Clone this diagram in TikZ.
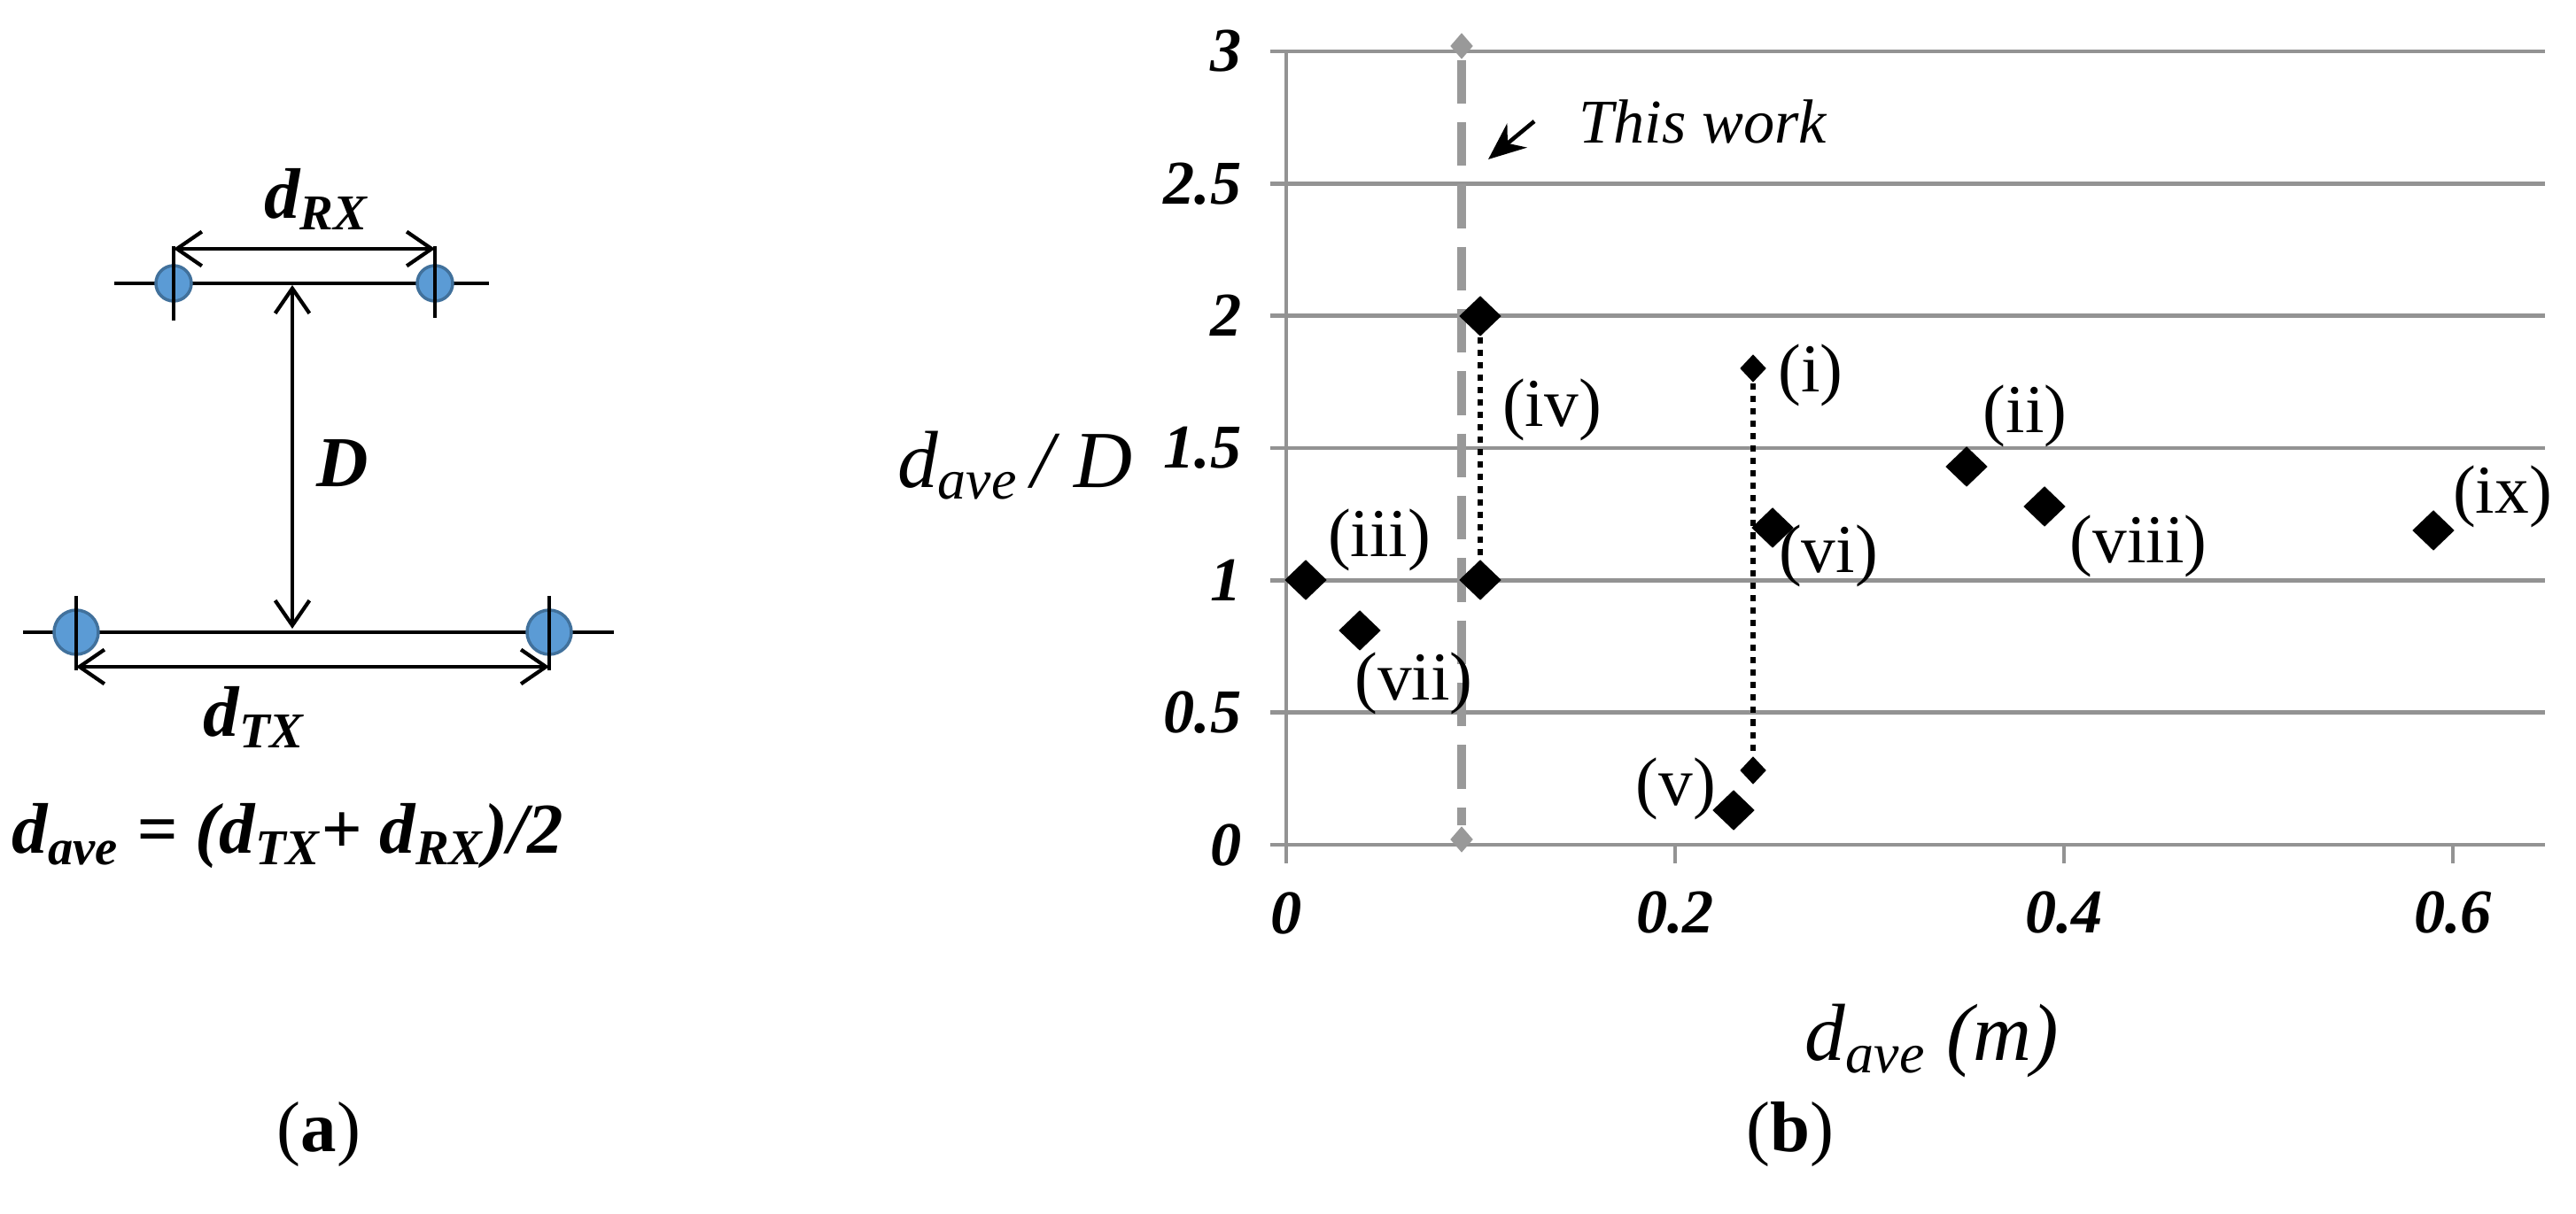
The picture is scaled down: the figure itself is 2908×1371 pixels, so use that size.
\documentclass[tikz,border=0pt]{standalone}
\usepackage{fontspec}
\setmainfont{Liberation Serif}
\usetikzlibrary{arrows.meta,shapes.geometric}
\definecolor{antf}{HTML}{5B9BD5}
\definecolor{antd}{HTML}{41719C}
\begin{document}
\begin{tikzpicture}[x=0.01cm,y=-0.01cm,
  dim/.style={line width=1.2pt,{Straight Barb[length=8pt,width=11pt]}-{Straight Barb[length=8pt,width=11pt]}},
  ln/.style={line width=1.2pt},
  ant/.style={circle,draw=antd,fill=antf,line width=1pt,inner sep=0pt},
  grid/.style={draw=gray!85,line width=1.3pt},
  dia/.style={diamond,fill=black,inner sep=0pt,minimum width=48*0.01cm,minimum height=46*0.01cm},
  sdia/.style={diamond,fill=black,inner sep=0pt,minimum width=30*0.01cm,minimum height=32*0.01cm},
  gdia/.style={diamond,fill=gray!80,inner sep=0pt,minimum width=26*0.01cm,minimum height=30*0.01cm},
  lab/.style={font=\fontsize{22}{24}\selectfont},
  tick/.style={font=\fontsize{20}{22}\selectfont\bfseries\itshape},
  big/.style={font=\fontsize{23}{25}\selectfont\bfseries\itshape}]
\useasboundingbox (0,0) rectangle (2908,1371);
% ---- panel (a)
\draw[ln] (129,320) -- (552,320);
\draw[ln] (26,714) -- (693,714);
\node[ant,minimum size=40*0.01cm] (r1) at (196,320) {};
\node[ant,minimum size=40*0.01cm] (r2) at (491,320) {};
\node[ant,minimum size=50*0.01cm] (t1) at (86,714) {};
\node[ant,minimum size=50*0.01cm] (t2) at (620,714) {};
\draw[ln] (196,278) -- (196,362);
\draw[ln] (491,278) -- (491,359);
\draw[ln] (86,673) -- (86,757);
\draw[ln] (620,673) -- (620,757);
\coordinate (ra) at (196,281); \coordinate (rb) at (491,281);
\coordinate (ta) at (86,753); \coordinate (tb) at (620,753);
\coordinate (da) at (330,322); \coordinate (db) at (330,710);
\draw[dim] (ra) -- (rb);
\draw[dim] (ta) -- (tb);
\draw[dim] (da) -- (db);
\node[big] (lrx) at (357,225) {d\textsubscript{RX}};
\node[big] (ltx) at (287,810) {d\textsubscript{TX}};
\node[big] (ld) at (387,523) {D};
\node[big] (form) at (325,944) {d\textsubscript{ave} = (d\textsubscript{TX}+ d\textsubscript{RX})/2};
\node[font=\fontsize{23}{25}\selectfont] (ca) at (360,1281) {(\textbf{a})};
\node[font=\fontsize{23}{25}\selectfont] (cb) at (2021,1281) {(\textbf{b})};
% ---- panel (b)
\foreach \v/\t in {0/0,0.5/0.5,1/1,1.5/1.5,2/2,2.5/2.5,3/3}{
  \draw[grid] (1434,954-298.7*\v) -- (2873,954-298.7*\v);
  \node[tick,anchor=east] at (1414,954-298.7*\v) {\t};
}
\draw[grid] (1452,58) -- (1452,975);
\foreach \v/\t in {0/0,0.2/0.2,0.4/0.4,0.6/0.6}{
  \draw[grid] (1452+2195*\v,954) -- (1452+2195*\v,975);
  \node[tick] at (1452+2195*\v,1031) {\t};
}
\node[font=\fontsize{26}{28}\selectfont\itshape] (yl) at (1146,526) {d\textsubscript{ave}\,/ D};
\node[font=\fontsize{26}{28}\selectfont\itshape] (xl) at (2181,1176) {d\textsubscript{ave} (m)};
% this work
\node[gdia] (w1) at (1650,52) {};
\node[gdia] (w2) at (1650,948) {};
\draw[draw=gray!80,line width=2.8pt,dash pattern=on 14pt off 6pt] (w1) -- (w2);
\node[font=\fontsize{20}{22}\selectfont\itshape,anchor=west] (tw) at (1770,137) {This work};
\coordinate (twa) at (1732,137);
\coordinate (twb) at (1680,180);
\draw[line width=1.3pt,-{Stealth[length=12pt,width=10pt]}] (twa) -- (twb);
% data
\node[dia] (p3) at (1474,655) {};
\node[dia] (p7) at (1535,712) {};
\node[dia] (p4a) at (1671,357) {};
\node[dia] (p4b) at (1671,655) {};
\node[sdia] (p1a) at (1979,416) {};
\node[sdia] (p1b) at (1979,870) {};
\node[dia] (p5) at (1957,915) {};
\node[dia] (p6) at (2001,596) {};
\node[dia] (p2) at (2220,527) {};
\node[dia] (p8) at (2308,572) {};
\node[dia] (p9) at (2747,599) {};
\draw[line width=1.5pt,dash pattern=on 2pt off 2pt] (p4a) -- (p4b);
\draw[line width=1.5pt,dash pattern=on 2pt off 2pt] (p1a) -- (p1b);
\node[lab] (l3) at (1557,610) {(iii)};
\node[lab] (l7) at (1596,772) {(vii)};
\node[lab] (l4) at (1752,463) {(iv)};
\node[lab] (l1) at (2044,424) {(i)};
\node[lab] (l2) at (2286,470) {(ii)};
\node[lab] (l6) at (2064,628) {(vi)};
\node[lab] (l8) at (2414,617) {(viii)};
\node[lab] (l9) at (2825,561) {(ix)};
\node[lab] (l5) at (1892,891) {(v)};
\end{tikzpicture}
\end{document}
